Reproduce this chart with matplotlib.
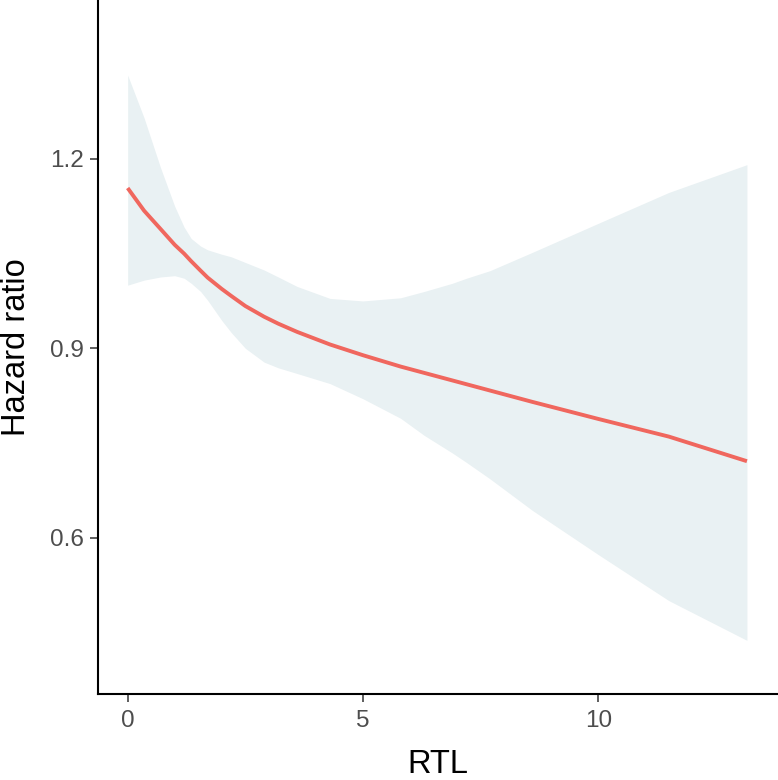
import matplotlib
matplotlib.use("Agg")
import matplotlib.pyplot as plt

plt.rcParams['font.family'] = ['Liberation Sans', 'DejaVu Sans']

# Values (RTL vs hazard ratio with confidence band)
rtl = [0, 0.35, 0.7, 1.0, 1.2, 1.35, 1.55, 1.7, 2.0, 2.2, 2.5, 2.9, 3.2,
       3.6, 4.3, 5.0, 5.8, 6.3, 6.9, 7.2, 7.7, 8.6, 10.0, 11.5, 13.16]
hr = [1.154, 1.118, 1.089, 1.064, 1.050, 1.038, 1.023, 1.012, 0.994, 0.983,
      0.967, 0.950, 0.939, 0.926, 0.906, 0.889, 0.871, 0.861, 0.849, 0.843,
      0.833, 0.815, 0.788, 0.760, 0.721]
hr_upper = [1.333, 1.265, 1.186, 1.125, 1.092, 1.074, 1.062, 1.056, 1.049,
            1.045, 1.036, 1.024, 1.013, 0.998, 0.979, 0.975, 0.980, 0.990,
            1.003, 1.011, 1.023, 1.052, 1.098, 1.147, 1.191]
hr_lower = [1.000, 1.008, 1.013, 1.015, 1.011, 1.003, 0.990, 0.976, 0.944,
            0.925, 0.900, 0.878, 0.869, 0.860, 0.844, 0.820, 0.789, 0.762,
            0.734, 0.719, 0.693, 0.643, 0.573, 0.500, 0.437]

x_ticks = [0, 5, 10]
y_ticks = [0.6, 0.9, 1.2]
y_tick_labels = ['0.6', '0.9', '1.2']

fig = plt.figure(figsize=(7.78, 7.80), dpi=100)
ax = fig.add_axes([98 / 778, 1 - 694 / 780, 680 / 778, 694 / 780])

ax.fill_between(rtl, hr_lower, hr_upper, color='#E9F1F3', linewidth=0)
ax.plot(rtl, hr, color='#F0675E', linewidth=2.8, solid_capstyle='butt',
        solid_joinstyle='round')

ax.set_xlim(-0.63, 13.82)
ax.set_ylim(0.352, 1.452)
ax.set_xticks(x_ticks)
ax.set_yticks(y_ticks)
ax.set_yticklabels(y_tick_labels)

for side in ['top', 'right']:
    ax.spines[side].set_visible(False)
for side in ['left', 'bottom']:
    ax.spines[side].set_linewidth(1.5)
    ax.spines[side].set_color('black')

ax.tick_params(axis='both', length=5.5, width=1.1, color='#333333',
               labelcolor='#4D4D4D', labelsize=17.5)
ax.tick_params(axis='x', pad=6)
ax.tick_params(axis='y', pad=5)

ax.set_xlabel('RTL', fontsize=23.5, color='black')
ax.xaxis.label.set_va('baseline')
ax.xaxis.set_label_coords(0.5, -(773 - 694) / 694)

ax.set_ylabel('Hazard ratio', fontsize=23.5, color='black')
ax.yaxis.label.set_va('baseline')
ax.yaxis.set_label_coords(-(97 - 24) / 680, 0.5)

fig.savefig('out.png', dpi=100)
